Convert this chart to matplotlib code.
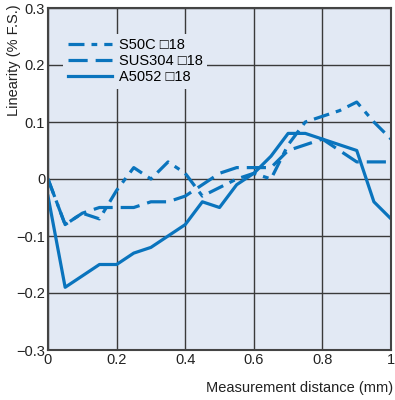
import matplotlib
matplotlib.use("Agg")
import matplotlib.pyplot as plt
from matplotlib.ticker import FuncFormatter

plt.rcParams['font.family'] = ['Liberation Sans', 'DejaVu Sans']

x = [0, 0.05, 0.1, 0.15, 0.2, 0.25, 0.3, 0.35, 0.4, 0.45, 0.5,
     0.55, 0.6, 0.65, 0.7, 0.75, 0.8, 0.85, 0.9, 0.95, 1.0]
s50c = [0, -0.08, -0.06, -0.07, -0.02, 0.02, 0.0, 0.03, 0.01, -0.03, -0.015,
        0.0, 0.01, 0.0, 0.06, 0.10, 0.11, 0.12, 0.135, 0.10, 0.07]
sus304 = [0, -0.08, -0.06, -0.05, -0.05, -0.05, -0.04, -0.04, -0.03, -0.01, 0.01,
          0.02, 0.02, 0.02, 0.05, 0.06, 0.07, 0.05, 0.03, 0.03, 0.03]
a5052 = [-0.03, -0.19, -0.17, -0.15, -0.15, -0.13, -0.12, -0.10, -0.08, -0.04, -0.05,
         -0.01, 0.01, 0.04, 0.08, 0.08, 0.07, 0.06, 0.05, -0.04, -0.07]
labels = ["S50C \u25a118", "SUS304 \u25a118", "A5052 \u25a118"]
xticks = [0, 0.2, 0.4, 0.6, 0.8, 1.0]
yticks = [-0.3, -0.2, -0.1, 0, 0.1, 0.2, 0.3]

color = '#0a74bd'
fig = plt.figure(figsize=(3.95, 4.0), dpi=100)
ax = fig.add_axes([0.1215, 0.125, 0.8685, 0.855])
ax.set_facecolor('#e2e9f4')

lw = 2.3
ax.plot(x, s50c, color=color, lw=lw, dashes=(5, 2.2, 1.8, 2.2), label=labels[0])
ax.plot(x, sus304, color=color, lw=lw, dashes=(6, 2.5), label=labels[1])
ax.plot(x, a5052, color=color, lw=lw, label=labels[2])

ax.set_xlim(0, 1)
ax.set_ylim(-0.3, 0.3)
ax.set_xticks(xticks)
ax.set_yticks(yticks)

def fmt(v, pos):
    if abs(v) < 1e-9:
        return "0"
    if abs(v - 1) < 1e-9:
        return "1"
    s = f"{abs(v):.1f}"
    return ("\u2212" + s) if v < 0 else s

ax.xaxis.set_major_formatter(FuncFormatter(fmt))
ax.yaxis.set_major_formatter(FuncFormatter(fmt))
ax.tick_params(length=0, labelsize=10.5, colors='#222222', pad=2)
ax.grid(True, color='#3a3a3a', lw=1.0)
ax.set_axisbelow(True)
for sp in ax.spines.values():
    sp.set_color('#444444')
    sp.set_linewidth(1.5)

leg = ax.legend(loc='upper left', bbox_to_anchor=(0.045, 0.925), frameon=True,
                handlelength=3.0, handletextpad=0.5, labelspacing=0.15,
                fontsize=10.5, borderpad=0.3, borderaxespad=0)
leg.get_frame().set_facecolor('#e2e9f4')
leg.get_frame().set_edgecolor('none')
leg.get_frame().set_alpha(1)

fig.text(0.035, 0.99, "Linearity (% F.S.)", rotation=90, ha='center', va='top',
         fontsize=10.5, color='#222222')
fig.text(0.995, 0.03, "Measurement distance (mm)", ha='right', va='center',
         fontsize=10.5, color='#222222')

fig.savefig("out.png", dpi=100)
